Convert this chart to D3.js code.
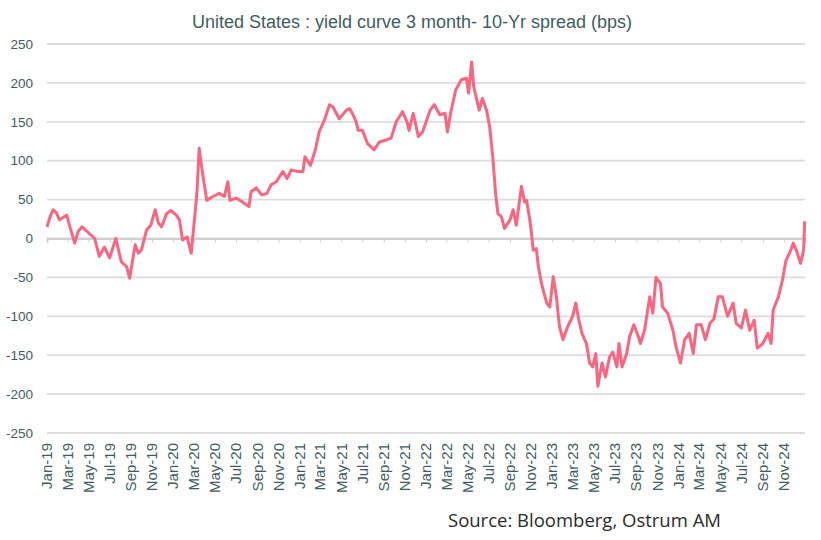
<!DOCTYPE html>
<html>
<head>
<meta charset="utf-8">
<script src="https://cdn.jsdelivr.net/npm/d3@7"></script>
<style>
    body { margin: 0; background: #fff; }
    svg { display: block; }
</style>
</head>
<body>
<div id="draw"><svg></svg></div>
<script>
var w = 821;    //svg宽
var h = 540;    //svg高
var left = 47, right = 805, top_y = 44, bottom_y = 433;

var title = "United States : yield curve 3 month- 10-Yr spread (bps)";
var source = "Source: Bloomberg, Ostrum AM";
var y_ticks = [250, 200, 150, 100, 50, 0, -50, -100, -150, -200, -250];

// spread (bps)
var dates = [
    "2019-01-01","2019-01-10","2019-01-19","2019-01-28","2019-02-06","2019-02-27","2019-03-07","2019-03-22",
    "2019-04-01","2019-04-12","2019-04-27","2019-05-19","2019-06-01","2019-06-16","2019-07-01","2019-07-19",
    "2019-08-04","2019-08-19","2019-08-28","2019-09-13","2019-09-22","2019-10-01","2019-10-16","2019-10-28",
    "2019-11-10","2019-11-19","2019-11-28","2019-12-13","2019-12-25","2020-01-10","2020-01-19","2020-01-28",
    "2020-02-10","2020-02-22","2020-03-04","2020-03-10","2020-03-16","2020-03-25","2020-04-07","2020-04-25",
    "2020-05-13","2020-05-28","2020-06-07","2020-06-13","2020-07-01","2020-07-19","2020-08-07","2020-08-13",
    "2020-08-28","2020-09-13","2020-09-28","2020-10-10","2020-10-25","2020-11-13","2020-11-25","2020-12-07",
    "2020-12-28","2021-01-10","2021-01-16","2021-02-01","2021-02-15","2021-02-26","2021-03-13","2021-03-28",
    "2021-04-07","2021-04-25","2021-05-16","2021-05-25","2021-06-04","2021-06-13","2021-06-19","2021-07-01",
    "2021-07-16","2021-08-04","2021-08-19","2021-09-10","2021-09-22","2021-10-07","2021-10-25","2021-11-07",
    "2021-11-13","2021-11-25","2021-12-10","2021-12-22","2022-01-13","2022-01-25","2022-02-10","2022-02-25",
    "2022-03-04","2022-03-13","2022-03-28","2022-04-13","2022-04-28","2022-05-04","2022-05-13","2022-05-19",
    "2022-06-04","2022-06-13","2022-06-25","2022-07-04","2022-07-13","2022-07-22","2022-07-28","2022-08-07",
    "2022-08-16","2022-09-01","2022-09-10","2022-09-19","2022-10-04","2022-10-13","2022-10-19","2022-10-28",
    "2022-11-01","2022-11-07","2022-11-16","2022-11-22","2022-12-01","2022-12-16","2022-12-25","2023-01-04",
    "2023-01-13","2023-01-22","2023-02-01","2023-02-15","2023-03-01","2023-03-10","2023-03-19","2023-03-28",
    "2023-04-10","2023-04-19","2023-04-28","2023-05-07","2023-05-13","2023-05-25","2023-06-04","2023-06-16",
    "2023-06-25","2023-07-07","2023-07-13","2023-07-22","2023-08-04","2023-08-13","2023-08-25","2023-09-07",
    "2023-09-13","2023-09-25","2023-10-10","2023-10-19","2023-10-28","2023-11-10","2023-11-16","2023-12-01",
    "2023-12-16","2023-12-25","2024-01-07","2024-01-19","2024-02-01","2024-02-13","2024-02-22","2024-03-07",
    "2024-03-19","2024-04-01","2024-04-13","2024-04-25","2024-05-07","2024-05-22","2024-06-07","2024-06-16",
    "2024-07-01","2024-07-13","2024-07-25","2024-08-07","2024-08-16","2024-09-01","2024-09-16","2024-09-25",
    "2024-10-01","2024-10-16","2024-10-28","2024-11-07","2024-11-19","2024-11-28","2024-12-07","2024-12-19",
    "2024-12-28","2024-12-31"
];
var spread = [
    15, 28, 37, 33, 24, 30, 17, -6,
    9, 15, 9, 0, -23, -11, -25, 0,
    -30, -36, -51, -8, -19, -15, 11, 17,
    37, 20, 15, 32, 36, 30, 24, -2,
    2, -19, 32, 62, 116, 86, 49, 54,
    58, 54, 73, 49, 52, 47, 41, 60,
    65, 56, 58, 69, 73, 86, 77, 88,
    86, 86, 105, 94, 114, 137, 152, 172,
    169, 154, 165, 167, 159, 150, 139, 139,
    122, 114, 124, 127, 129, 150, 163, 150,
    139, 161, 131, 137, 165, 172, 159, 161,
    137, 161, 191, 204, 206, 187, 227, 195,
    165, 180, 165, 144, 105, 54, 32, 28,
    13, 24, 37, 17, 67, 47, 49, 24,
    11, -15, -13, -36, -58, -83, -88, -49,
    -75, -113, -130, -113, -100, -83, -105, -122,
    -135, -160, -165, -148, -190, -160, -178, -152,
    -146, -165, -135, -165, -148, -126, -111, -126,
    -135, -118, -75, -96, -50, -58, -88, -96,
    -118, -139, -160, -130, -122, -148, -111, -111,
    -130, -109, -103, -75, -75, -100, -83, -109,
    -115, -92, -118, -105, -141, -135, -122, -135,
    -92, -75, -53, -28, -17, -6, -15, -32,
    -15, 22
];

var parse = d3.timeParse("%Y-%m-%d");
var data = dates.map(function(d, i) {
    return [parse(d), spread[i]];
});

var svg = d3.select("#draw svg")
    .attr("width", w)
    .attr("height", h);

var x = d3.scaleTime()
    .domain([parse("2019-01-01"), parse("2025-01-01")])
    .range([left, right]);
var y = d3.scaleLinear()
    .domain([-250, 250])
    .range([bottom_y, top_y]);

var month_ticks = d3.timeMonth.every(2).range(parse("2019-01-01"), parse("2025-01-01"));
var txt_color = "#3f5c5e";

//网格线
svg.append("g")
    .selectAll("line")
    .data(y_ticks)
    .enter()
    .append("line")
    .attr("x1", left)
    .attr("x2", right)
    .attr("y1", function(d) { return y(d); })
    .attr("y2", function(d) { return y(d); })
    .attr("stroke", "#dcdcdc")
    .attr("stroke-width", 1.8);

//y轴标注
svg.append("g")
    .selectAll("text")
    .data(y_ticks)
    .enter()
    .append("text")
    .text(function(d) { return d; })
    .attr("x", 33)
    .attr("y", function(d) { return y(d); })
    .attr("dy", "0.35em")
    .attr("text-anchor", "end")
    .attr("font-family", "Liberation Sans, Arial, sans-serif")
    .attr("font-size", "13.5px")
    .attr("fill", txt_color);

//零线刻度
svg.append("g")
    .attr("transform", "translate(0," + y(0) + ")")
    .call(d3.axisBottom(x).tickValues(month_ticks).tickSize(4).tickFormat(""))
    .call(function(g) {
        g.select(".domain").attr("stroke", "#cfcfcf").attr("stroke-width", 1.8);
        g.selectAll(".tick line").attr("stroke", "#cfcfcf");
    });

//x轴标注
svg.append("g")
    .selectAll("text")
    .data(month_ticks)
    .enter()
    .append("text")
    .text(d3.timeFormat("%b-%y"))
    .attr("transform", function(d) {
        return "translate(" + x(d) + ",443) rotate(-90)";
    })
    .attr("dy", "0.35em")
    .attr("text-anchor", "end")
    .attr("font-family", "Liberation Sans, Arial, sans-serif")
    .attr("font-size", "15px")
    .attr("fill", txt_color);

//曲线
var line = d3.line()
    .x(function(d) { return x(d[0]); })
    .y(function(d) { return y(d[1]); });

svg.append("path")
    .datum(data)
    .attr("d", line)
    .attr("fill", "none")
    .attr("stroke", "#fb6580")
    .attr("stroke-width", 3)
    .attr("stroke-linejoin", "round");

//标题
svg.append("text")
    .text(title)
    .attr("x", 412)
    .attr("y", 22)
    .attr("dy", "0.35em")
    .attr("text-anchor", "middle")
    .attr("font-family", "Liberation Sans, Arial, sans-serif")
    .attr("font-size", "18px")
    .attr("fill", txt_color);

//来源
svg.append("text")
    .text(source)
    .attr("x", 448)
    .attr("y", 521)
    .attr("dy", "0.35em")
    .attr("font-family", "Open Sans, sans-serif")
    .attr("font-size", "18.5px")
    .attr("fill", "#2b2b2b");
</script>
</body>
</html>
